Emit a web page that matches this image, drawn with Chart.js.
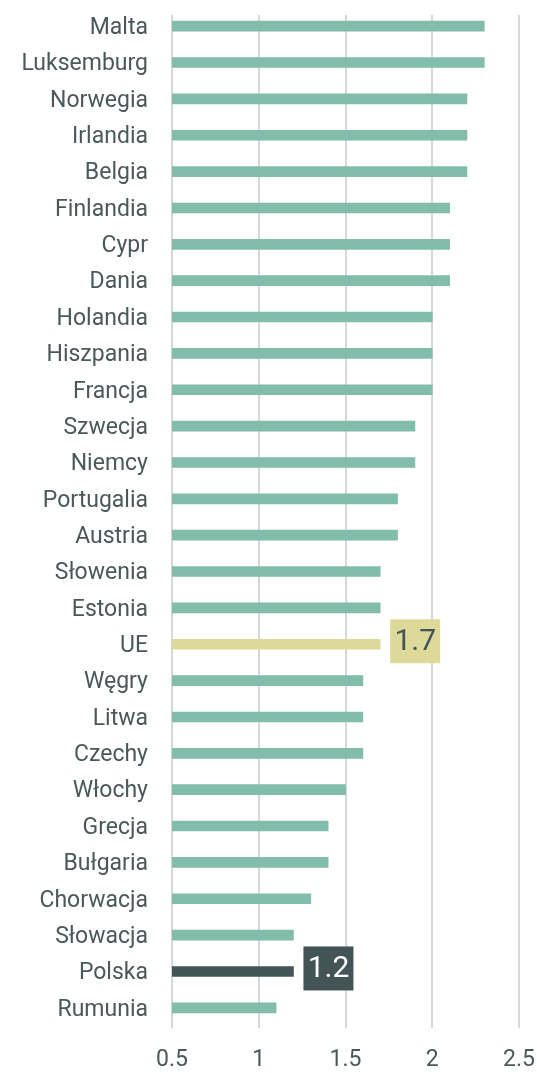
<!DOCTYPE html>
<html>
<head>
<meta charset="utf-8">
<script src="https://cdn.jsdelivr.net/npm/chart.js@4"></script>
<style>
  html, body { margin: 0; padding: 0; background: #ffffff; }
  #wrap { width: 537px; height: 1073px; position: relative; }
</style>
</head>
<body>
<div id="wrap"><canvas id="c"></canvas></div>
<script>
const categories = ["Malta","Luksemburg","Norwegia","Irlandia","Belgia","Finlandia","Cypr","Dania","Holandia","Hiszpania","Francja","Szwecja","Niemcy","Portugalia","Austria","Słowenia","Estonia","UE","Węgry","Litwa","Czechy","Włochy","Grecja","Bułgaria","Chorwacja","Słowacja","Polska","Rumunia"];
const values = [2.3,2.3,2.2,2.2,2.2,2.1,2.1,2.1,2.0,2.0,2.0,1.9,1.9,1.8,1.8,1.7,1.7,1.7,1.6,1.6,1.6,1.5,1.4,1.4,1.3,1.2,1.2,1.1];
const xTicks = [0.5, 1, 1.5, 2, 2.5];
const highlighted = ["UE", "Polska"];

const TEAL = "#82bcab";
const EU = "#dcd999";
const PL = "#435457";
const TEXT = "#4b5859";
const GRID = "#d4d8db";
const FONT = "Roboto, 'Noto Sans', sans-serif";

const barColors = categories.map(c => c === "UE" ? EU : (c === "Polska" ? PL : TEAL));

// vertical grid lines drawn at the x-scale tick positions
const gridPlugin = {
  id: "vGrid",
  beforeDatasetsDraw(chart) {
    const ctx = chart.ctx;
    const xs = chart.scales.x;
    const top = chart.chartArea.top + 7;
    const bottom = chart.chartArea.bottom + 2;
    ctx.save();
    ctx.strokeStyle = GRID;
    ctx.lineWidth = 2;
    xs.ticks.forEach(t => {
      const x = Math.round(xs.getPixelForValue(t.value));
      ctx.beginPath();
      ctx.moveTo(x, top);
      ctx.lineTo(x, bottom);
      ctx.stroke();
    });
    ctx.restore();
  }
};

const boxPlugin = {
  id: "boxLabels",
  afterDatasetsDraw(chart) {
    const ctx = chart.ctx;
    const meta = chart.getDatasetMeta(0);
    highlighted.forEach(name => {
      const i = categories.indexOf(name);
      const el = meta.data[i];
      const txt = String(values[i].toFixed(1));
      ctx.save();
      ctx.font = "400 30px " + FONT;
      const w = 50, h = 44;
      const x0 = el.x + 10;
      const yc = el.y - 3;
      ctx.fillStyle = name === "UE" ? EU : PL;
      ctx.fillRect(x0, yc - h / 2, w, h);
      ctx.fillStyle = name === "UE" ? PL : "#ffffff";
      ctx.textAlign = "center";
      ctx.textBaseline = "middle";
      ctx.fillText(txt, x0 + w / 2, yc + 1);
      ctx.restore();
    });
  }
};

new Chart(document.getElementById("c"), {
  type: "bar",
  data: {
    labels: categories,
    datasets: [{
      data: values,
      backgroundColor: barColors,
      borderWidth: 0,
      barThickness: 10
    }]
  },
  options: {
    indexAxis: "y",
    responsive: true,
    maintainAspectRatio: false,
    animation: false,
    layout: { padding: { top: 8, right: 18, bottom: 0, left: 0 } },
    plugins: { legend: { display: false }, tooltip: { enabled: false } },
    scales: {
      x: {
        type: "linear",
        min: 0.5,
        max: 2.5,
        afterBuildTicks(scale) { scale.ticks = xTicks.map(v => ({ value: v })); },
        afterFit(scale) { scale.paddingLeft = 0; scale.paddingRight = 0; scale.height = 47; },
        grid: { display: false },
        border: { display: false },
        ticks: { color: TEXT, font: { family: FONT, size: 23 }, padding: 12, maxRotation: 0,
                 callback: v => String(v) }
      },
      y: {
        grid: { display: false },
        border: { display: false },
        afterFit(scale) { scale.width = 172; scale.paddingTop = 0; scale.paddingBottom = 0; },
        ticks: { color: TEXT, font: { family: FONT, size: 23 }, padding: 16, autoSkip: false, labelOffset: 2 }
      }
    }
  },
  plugins: [gridPlugin, boxPlugin]
});
</script>
</body>
</html>
